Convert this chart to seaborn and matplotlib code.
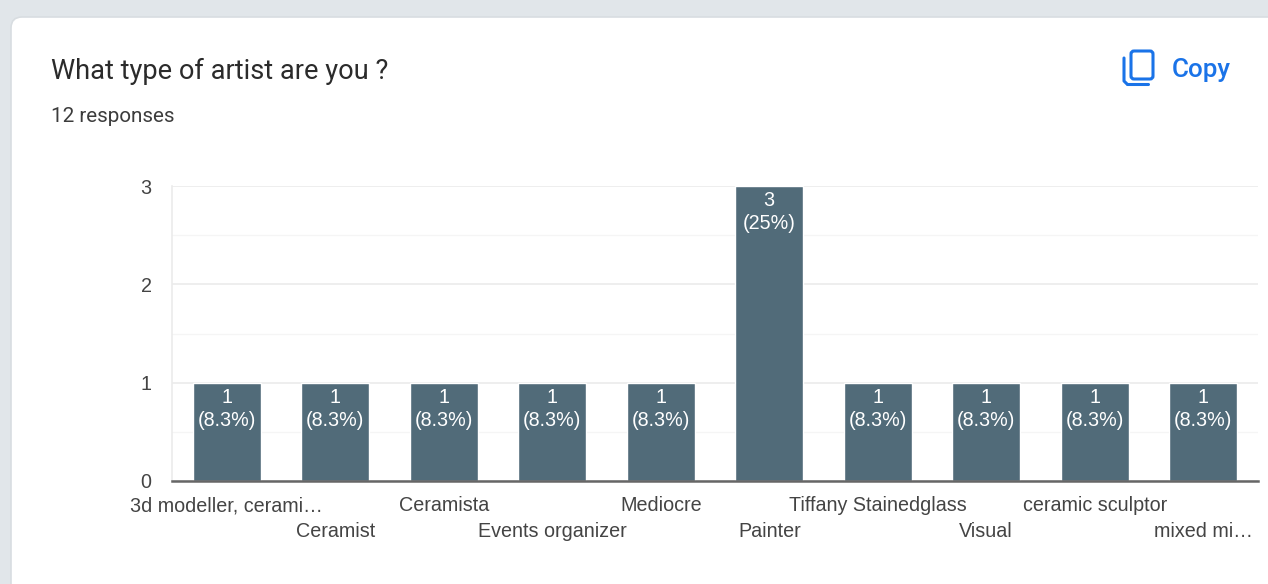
import matplotlib
matplotlib.use("Agg")
import matplotlib.pyplot as plt
from matplotlib.patches import FancyBboxPatch
from matplotlib.ticker import MultipleLocator
import pandas as pd
import seaborn as sns

categories = ["3d modeller, cerami…", "Ceramist", "Ceramista", "Events organizer", "Mediocre",
              "Painter", "Tiffany Stainedglass", "Visual", "ceramic sculptor", "mixed mi…"]
counts = [1, 1, 1, 1, 1, 3, 1, 1, 1, 1]
total_responses = 12
title = "What type of artist are you ?"
subtitle = "12 responses"
action = "Copy"

W, H = 1268, 584
sns.set_theme(style="white")
plt.rcParams["font.family"] = ["Liberation Sans", "DejaVu Sans"]
fig = plt.figure(figsize=(W / 100, H / 100), dpi=100, facecolor="#e1e6ea")

# page chrome, in pixel coordinates
bg = fig.add_axes([0, 0, 1, 1], zorder=0)
bg.set_xlim(0, W); bg.set_ylim(H, 0); bg.axis("off")
bg.add_patch(FancyBboxPatch((11, 17), W + 60, H + 60, boxstyle="round,pad=0,rounding_size=11",
                            fc="white", ec="#d8dde1", lw=1.2))
bg.text(51, 71.5, title, family="Roboto", fontsize=19.6, color="#2b2b2b", va="center", ha="left")
bg.text(51, 117, subtitle, family="Roboto", fontsize=14.9, color="#3c3c3c", va="center", ha="left")
bg.text(1172, 69.5, action, family="Roboto", fontsize=18.7, weight="medium", color="#1a73e8", va="center", ha="left")
bg.add_patch(FancyBboxPatch((1131, 51), 22, 28, boxstyle="round,pad=0,rounding_size=3",
                            fc="none", ec="#1a73e8", lw=2.2))
bg.plot([1124, 1124, 1127], [58, 81, 84], color="#1a73e8", lw=2.2, solid_capstyle="round")
bg.plot([1127, 1148], [84, 84], color="#1a73e8", lw=2.2, solid_capstyle="round")

# chart
left, right, top, bottom = 172.5, 1257.5, 186, 481
ax = fig.add_axes([left / W, 1 - bottom / H, (right - left) / W, (bottom - top) / H], zorder=1)
ax.patch.set_alpha(0)
df = pd.DataFrame({"category": categories, "count": counts})
sns.barplot(data=df, x="category", y="count", color="#516b79", saturation=1, width=0.63, ax=ax, zorder=3)
ax.set_xlim(-0.5, len(categories) - 0.5)
ax.set_ylim(0, 3)
ax.set_xlabel(""); ax.set_ylabel("")

ax.yaxis.set_major_locator(MultipleLocator(1))
ax.yaxis.set_minor_locator(MultipleLocator(0.5))
ax.grid(True, axis="y", which="major", color="#ebebeb", lw=1.2, zorder=0)
ax.grid(True, axis="y", which="minor", color="#f5f5f5", lw=1, zorder=0)
ax.set_axisbelow(True)
for s in ("top", "right"):
    ax.spines[s].set_visible(False)
ax.spines["left"].set_color("#ebebeb"); ax.spines["left"].set_linewidth(1.2)
ax.spines["bottom"].set_color("#666666"); ax.spines["bottom"].set_linewidth(1.8)
ax.spines["bottom"].set_zorder(5)

ax.tick_params(axis="y", which="both", length=0, pad=15, labelsize=14.2, labelcolor="#444444")
ax.tick_params(axis="x", length=0, labelsize=14.2, labelcolor="#444444")
for i, tick in enumerate(ax.xaxis.get_major_ticks()):
    tick.set_pad(29.5 if i % 2 else 11)

for container in ax.containers:
    labels = [f"{v}\n({v / total_responses * 100:.2g}%)" for v in counts]
    ax.bar_label(container, labels=labels, label_type="edge", padding=-34, color="white",
                 fontsize=14.2, linespacing=1.28, zorder=6)

fig.savefig("out.png", dpi=100, facecolor=fig.get_facecolor())
